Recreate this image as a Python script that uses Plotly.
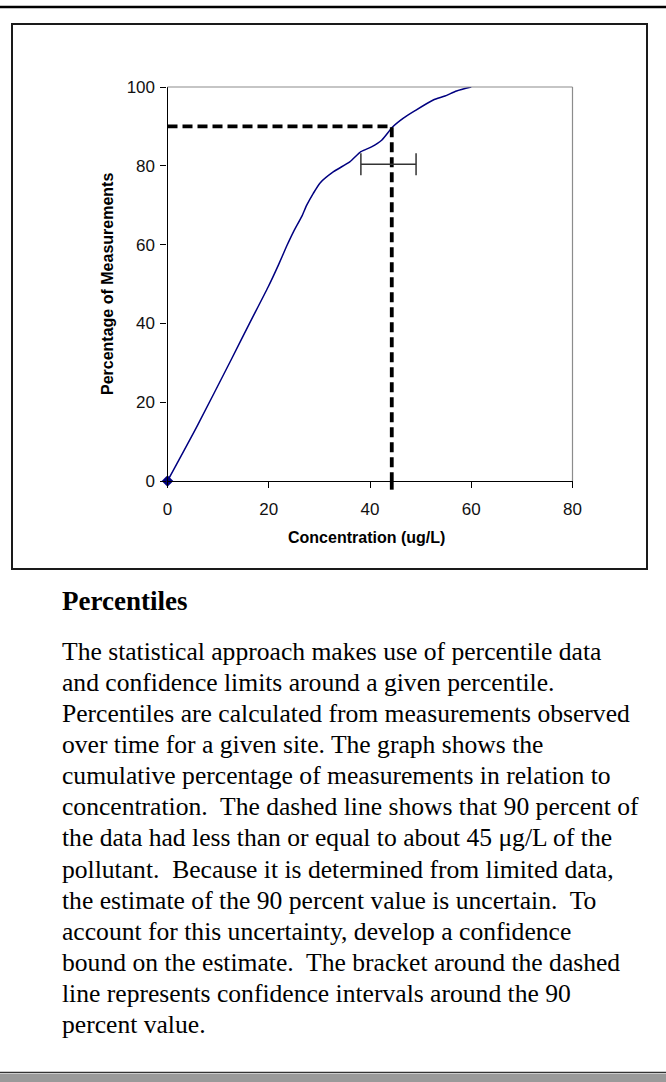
import plotly.graph_objects as go

W, H = 666, 1082

# ---- data ----
concentration = [0, 5.8, 12.7, 16.2, 19.9, 21.9, 23.5, 24.9, 26.5, 27.5, 28.8, 30.1,
                 32.8, 36.0, 38.2, 40.3, 42.3, 44.5, 46.6, 48.9, 52.5, 54.8, 57.1, 60]
percentage = [0, 13.8, 31.1, 40.0, 49.3, 54.8, 59.5, 63.3, 67.1, 70.0, 73.0, 75.6,
              78.5, 81.0, 83.6, 84.8, 86.5, 89.9, 92.1, 94.0, 96.7, 97.7, 99.0, 100]
pct_level = 90
pct_conc = 44.3
ci_low, ci_high = 38.2, 49.1
ci_level = 80.4
x_ticks = [0, 20, 40, 60, 80]
y_ticks = [0, 20, 40, 60, 80, 100]

heading = "Percentiles"
body_lines = [
    "The statistical approach makes use of percentile data",
    "and confidence limits around a given percentile.",
    "Percentiles are calculated from measurements observed",
    "over time for a given site. The graph shows the",
    "cumulative percentage of measurements in relation to",
    "concentration.\u00a0 The dashed line shows that 90 percent of",
    "the data had less than or equal to about 45 \u03bcg/L of the",
    "pollutant.\u00a0 Because it is determined from limited data,",
    "the estimate of the 90 percent value is uncertain.\u00a0 To",
    "account for this uncertainty, develop a confidence",
    "bound on the estimate.\u00a0 The bracket around the dashed",
    "line represents confidence intervals around the 90",
    "percent value.",
]

def px(x):
    return x / W

def py(y):
    return 1 - y / H

fig = go.Figure()

# main cumulative curve
fig.add_trace(go.Scatter(
    x=concentration, y=percentage, mode="lines",
    line=dict(color="#000080", width=1.5, shape="spline", smoothing=0.6),
    hoverinfo="skip", showlegend=False))
# first point marker
fig.add_trace(go.Scatter(
    x=concentration[:1], y=percentage[:1], mode="markers",
    marker=dict(symbol="diamond", color="#000080", size=9),
    cliponaxis=False, showlegend=False, hoverinfo="skip"))
# dashed percentile lines
fig.add_trace(go.Scatter(
    x=[0, pct_conc, pct_conc], y=[pct_level, pct_level, 0], mode="lines",
    line=dict(color="black", width=3.8, dash="10px,5px"),
    showlegend=False, hoverinfo="skip"))
# confidence bracket
fig.add_trace(go.Scatter(
    x=[(ci_low + ci_high) / 2], y=[ci_level], mode="markers",
    marker=dict(size=0.1, color="rgba(0,0,0,0)"),
    error_x=dict(type="data", symmetric=True, array=[(ci_high - ci_low) / 2],
                 color="#333333", thickness=1.5, width=11),
    showlegend=False, hoverinfo="skip"))

shapes = []
# tail of vertical dashed line below the axis
shapes.append(dict(type="line", xref="x", yref="y domain", x0=pct_conc, x1=pct_conc,
                   y0=0, y1=-0.022, line=dict(color="black", width=3.8)))
# plot area border (top/right gray)
shapes.append(dict(type="line", xref="paper", yref="paper", x0=px(167.5), x1=px(572.5),
                   y0=py(87), y1=py(87), line=dict(color="#8c8c8c", width=1.2)))
shapes.append(dict(type="line", xref="paper", yref="paper", x0=px(572.5), x1=px(572.5),
                   y0=py(87), y1=py(481), line=dict(color="#8c8c8c", width=1.2)))
# chart frame
shapes.append(dict(type="rect", xref="paper", yref="paper", x0=px(12), x1=px(647),
                   y0=py(569), y1=py(24), line=dict(color="#1a1a1a", width=2)))
# top rule
shapes.append(dict(type="line", xref="paper", yref="paper", x0=0, x1=1,
                   y0=py(7), y1=py(7), line=dict(color="black", width=2.5)))
# bottom patterned rule
shapes.append(dict(type="line", xref="paper", yref="paper", x0=0, x1=1,
                   y0=py(1072.5), y1=py(1072.5), line=dict(color="#333333", width=1.5)))
shapes.append(dict(type="rect", xref="paper", yref="paper", x0=0, x1=1,
                   y0=py(1082), y1=py(1074), fillcolor="#9a9a9a", line=dict(width=0)))

annotations = []
annotations.append(dict(text="<b>Concentration (ug/L)</b>", xref="paper", yref="paper",
                        x=px(366), y=py(537), showarrow=False, xanchor="center", yanchor="middle",
                        font=dict(family="Liberation Sans, Arial", size=16, color="black")))
annotations.append(dict(text="<b>Percentage of Measurements</b>", xref="paper", yref="paper",
                        x=px(107), y=py(284), showarrow=False, textangle=-90,
                        xanchor="center", yanchor="middle",
                        font=dict(family="Liberation Sans, Arial", size=16, color="black")))
annotations.append(dict(text="<b>" + heading + "</b>", xref="paper", yref="paper",
                        x=px(60), y=py(601), showarrow=False, xanchor="left", yanchor="middle",
                        font=dict(family="Liberation Serif, Times New Roman", size=27, color="black")))
for i, line in enumerate(body_lines):
    annotations.append(dict(text=line, xref="paper", yref="paper",
                            x=px(60), y=py(651 + i * 31.15), showarrow=False,
                            xanchor="left", yanchor="middle",
                            font=dict(family="Liberation Serif, Times New Roman", size=25.6,
                                      color="black")))

axis_font = dict(family="Liberation Sans, Arial", size=17, color="#111111")
fig.update_layout(
    width=W, height=H,
    margin=dict(l=0, r=0, t=0, b=0),
    paper_bgcolor="white", plot_bgcolor="white",
    showlegend=False,
    shapes=shapes, annotations=annotations,
    xaxis=dict(domain=[px(167.5), px(572.5)], range=[0, 80], tickvals=x_ticks,
               showgrid=False, zeroline=False, showline=True, linecolor="black", linewidth=1.2,
               ticks="outside", ticklen=6, tickcolor="black", tickwidth=1,
               ticklabelstandoff=6,
               tickfont=axis_font, automargin=False, fixedrange=True),
    yaxis=dict(domain=[py(481), py(87)], range=[0, 100], tickvals=y_ticks,
               showgrid=False, zeroline=False, showline=True, linecolor="black", linewidth=1.2,
               ticks="outside", ticklen=6, tickcolor="black", tickwidth=1,
               ticklabelstandoff=2,
               tickfont=axis_font, automargin=False, fixedrange=True),
)

fig.write_html("out.html", config={"displayModeBar": False},
               post_script="document.body.style.margin='0';document.body.style.overflow='hidden';")
